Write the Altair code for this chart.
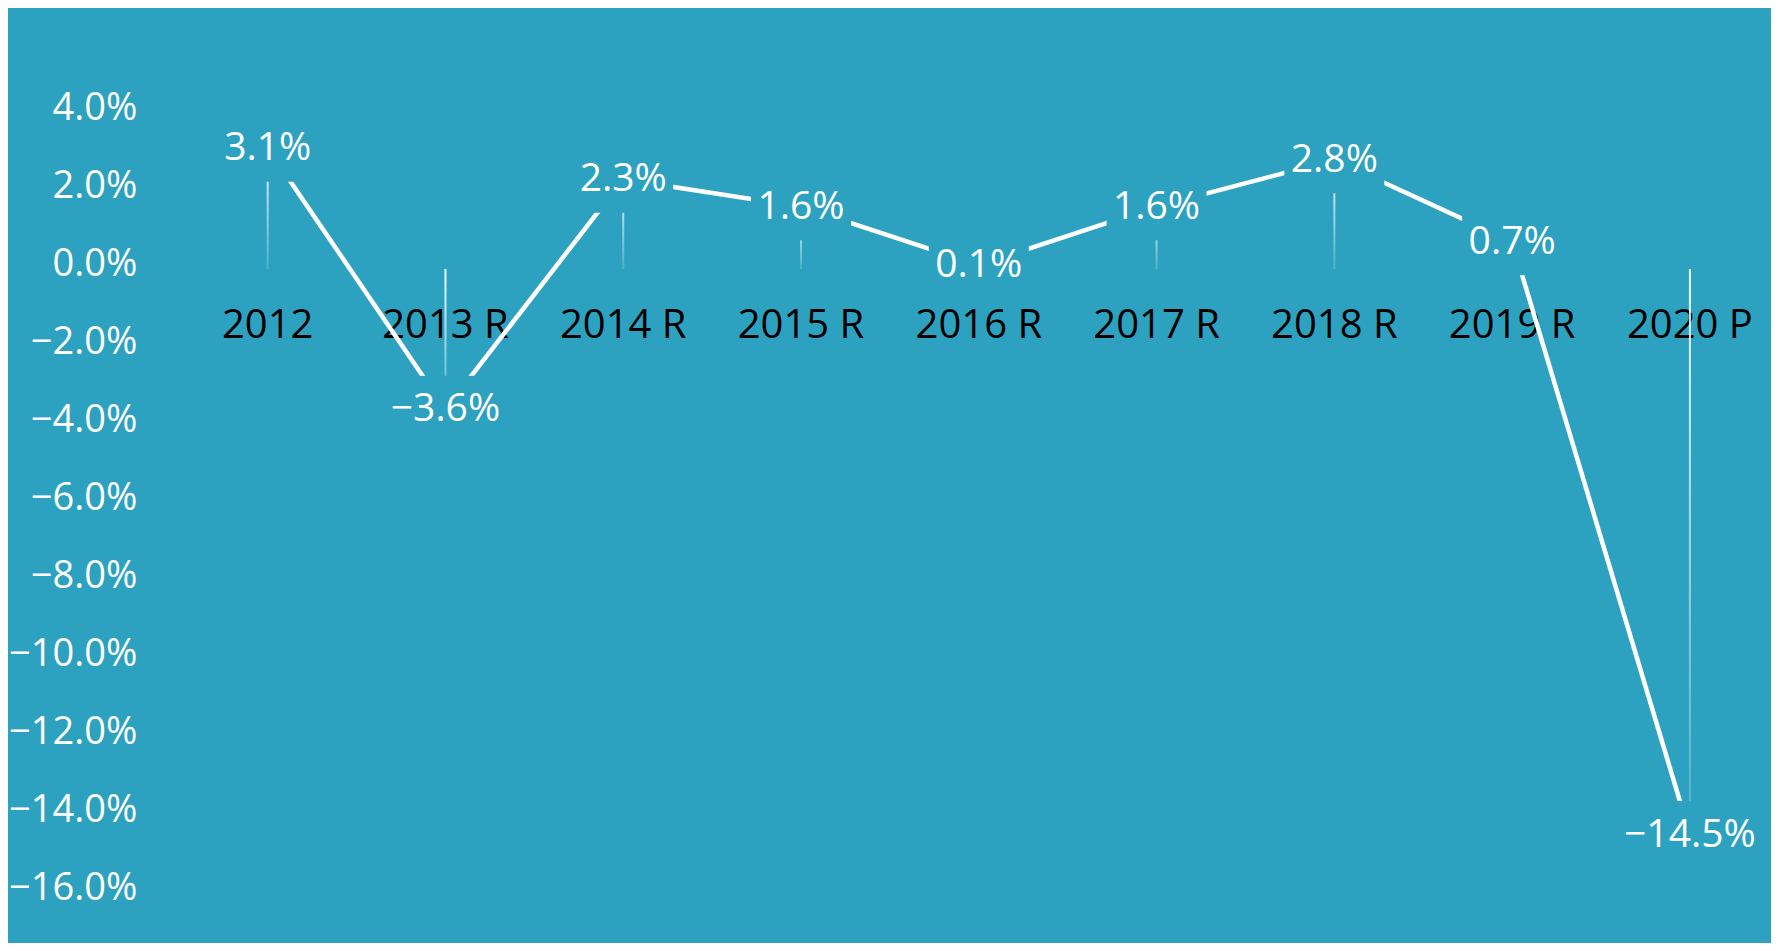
import altair as alt
import pandas as pd

# ---- data ----
years = ["2012", "2013 R", "2014 R", "2015 R", "2016 R", "2017 R", "2018 R", "2019 R", "2020 P"]
growth = [0.031, -0.036, 0.023, 0.016, 0.001, 0.016, 0.028, 0.007, -0.145]
y_ticks = [0.04, 0.02, 0.0, -0.02, -0.04, -0.06, -0.08, -0.10, -0.12, -0.14, -0.16]

df = pd.DataFrame({"year": years, "growth": growth})

TEAL = "#2DA2C0"
FONT = "Open Sans"

x_enc = alt.X(
    "year:N",
    sort=years,
    scale=alt.Scale(range=[0, 1600], paddingInner=0, paddingOuter=0),
    axis=alt.Axis(
        title=None,
        orient="bottom",
        offset=-607,
        labelAngle=0,
        labelBaseline="middle",
        labelPadding=0,
        ticks=False,
        domain=False,
        labelColor="black",
        labelFont=FONT,
        labelFontSize=40,
    ),
)

y_scale = alt.Scale(domain=[-0.17, 0.06], nice=False, zero=False)
y_axis = alt.Axis(
    values=y_ticks,
    format=".1%",
    title=None,
    grid=False,
    domain=False,
    ticks=False,
    labelPadding=42,
    labelColor="white",
    labelFont=FONT,
    labelFontSize=38,
    labelOffset=-5,
)
y_enc = alt.Y("growth:Q", scale=y_scale, axis=y_axis)

base = alt.Chart(df)

grad = alt.Gradient(
    gradient="linear",
    stops=[
        alt.GradientStop(color="rgba(255,255,255,0.95)", offset=0),
        alt.GradientStop(color="rgba(255,255,255,0.15)", offset=1),
    ],
    x1=0, x2=0, y1=0, y2=1,
)

bars = base.mark_bar(width=2, color=grad).encode(x=x_enc, y=y_enc, y2=alt.datum(0))

line = base.mark_line(color="white", strokeWidth=4.5).encode(x=x_enc, y=y_enc)

boxes = (
    base.transform_calculate(top="datum.growth + 0.0086", bot="datum.growth - 0.0086")
    .mark_bar(width=100, color=TEAL)
    .encode(
        x=x_enc,
        y=alt.Y("top:Q", scale=y_scale, axis=y_axis),
        y2="bot:Q",
    )
)

labels = base.mark_text(
    font=FONT, fontSize=39, color="white", baseline="middle", align="center"
).encode(x=x_enc, y=y_enc, text=alt.Text("growth:Q", format=".1%"))

chart = (
    alt.layer(bars, line, boxes, labels)
    .properties(
        width=1592,
        height=897,
        autosize=alt.AutoSizeParams(type="none"),
        padding={"left": 170.8, "top": 27, "right": 0.2, "bottom": 11},
        background=TEAL,
    )
    .configure(font=FONT, view=alt.ViewConfig(stroke="transparent", strokeWidth=0))
)

chart.save("out.html", embed_options={"renderer": "svg", "actions": False})
